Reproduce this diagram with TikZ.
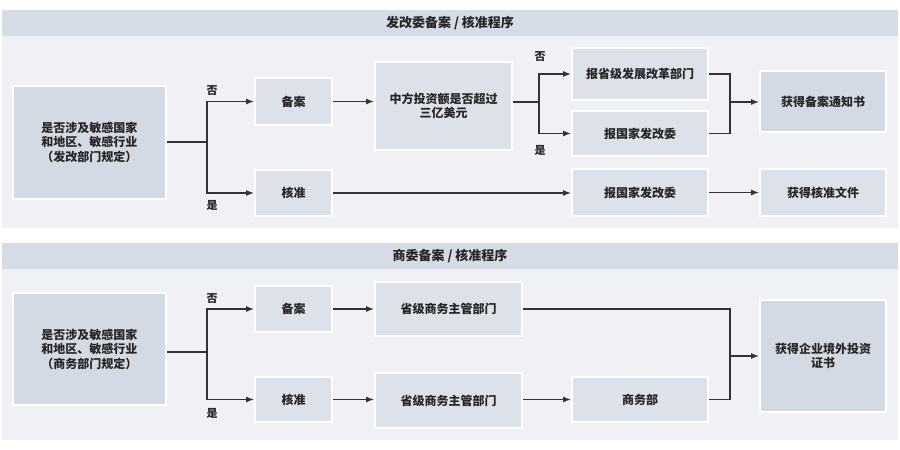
\documentclass[tikz,border=0pt]{standalone}
\usepackage{fontspec}
\setmainfont{Noto Sans CJK SC}
\usetikzlibrary{arrows.meta}
\definecolor{panelbg}{HTML}{EFF1F6}
\definecolor{headbg}{HTML}{D6DCE5}
\definecolor{bigbox}{HTML}{D4DAE3}
\definecolor{smallbox}{HTML}{DDE1E9}
\definecolor{linec}{HTML}{333333}
\begin{document}
\begin{tikzpicture}[x=1pt,y=-1pt,
  box/.style={draw=white,line width=2pt,fill=smallbox,inner sep=0pt,align=center,
    font=\fontsize{12}{14.5}\selectfont\bfseries,text=black!85},
  bbox/.style={box,fill=bigbox},
  conn/.style={draw=linec,line width=1.1pt},
  arr/.style={conn,-{Latex[length=8pt,width=6pt]}},
  lab/.style={font=\fontsize{11}{13}\selectfont\bfseries,text=black!85,inner sep=0pt},
  head/.style={font=\fontsize{13}{15}\selectfont\bfseries,text=black!85,inner sep=0pt}]
\useasboundingbox[fill=white] (0,0) rectangle (900,450);
% panels
\fill[panelbg] (2,10) rectangle (898,228);
\fill[headbg] (2,10) rectangle (898,36);
\node[head] (h1) at (450,23) {发改委备案 / 核准程序};
\fill[panelbg] (2,243) rectangle (898,440);
\fill[headbg] (2,243) rectangle (898,269);
\node[head] (h2) at (450,256) {商委备案 / 核准程序};
% top nodes
\node[bbox,minimum width=153pt,minimum height=113pt] (L1) at (89.5,142) {是否涉及敏感国家\\和地区、敏感行业\\（发改部门规定）};
\node[box,minimum width=77pt,minimum height=47pt] (B1) at (293.5,101.5) {备案};
\node[box,minimum width=77pt,minimum height=46pt] (H1) at (293.5,193) {核准};
\node[box,minimum width=137pt,minimum height=88pt] (Z) at (443.5,106) {中方投资额是否超过\\三亿美元};
\node[box,minimum width=136pt,minimum height=52pt] (P1) at (640,74) {报省级发展改革部门};
\node[box,minimum width=136pt,minimum height=45pt] (G1) at (640,133.5) {报国家发改委};
\node[box,minimum width=136pt,minimum height=47pt] (G2) at (640,192.5) {报国家发改委};
\node[bbox,minimum width=126pt,minimum height=61pt] (N1) at (823,101.5) {获得备案通知书};
\node[box,minimum width=126pt,minimum height=47pt] (N2) at (823,192.5) {获得核准文件};
% top connectors
\coordinate (j1) at (207,142);
\coordinate (j2) at (539,102);
\coordinate (j3) at (730,102);
\draw[conn] (L1.east) -- (j1);
\draw[arr] (j1) |- (B1);
\draw[arr] (j1) |- (H1);
\draw[arr] (B1.east) -- (B1.east -| Z.west);
\draw[conn] (Z.east |- j2) -- (j2);
\draw[arr] (j2) |- (P1);
\draw[arr] (j2) |- (G1);
\draw[conn] (P1) -| (j3);
\draw[conn] (G1) -| (j3);
\draw[arr] (j3) -- (j3 -| N1.west);
\draw[arr] (H1.east) -- (H1.east -| G2.west);
\draw[arr] (G2) -- (N2);
\node[lab] (t1) at (212,91) {否};
\node[lab] (t2) at (212,205) {是};
\node[lab] (t3) at (540,57) {否};
\node[lab] (t4) at (540,150) {是};
% bottom nodes
\node[bbox,minimum width=153pt,minimum height=112pt] (L2) at (89.5,349) {是否涉及敏感国家\\和地区、敏感行业\\（商务部门规定）};
\node[box,minimum width=77pt,minimum height=46pt] (B2) at (293.5,309) {备案};
\node[box,minimum width=77pt,minimum height=45pt] (H2) at (293.5,399.5) {核准};
\node[box,minimum width=147pt,minimum height=54pt] (S1) at (448.5,309) {省级商务主管部门};
\node[box,minimum width=147pt,minimum height=55pt] (S2) at (448.5,400.5) {省级商务主管部门};
\node[box,minimum width=136pt,minimum height=45pt] (M) at (640,399.5) {商务部};
\node[bbox,minimum width=126pt,minimum height=112pt] (E) at (823,356) {获得企业境外投资\\证书};
% bottom connectors
\coordinate (j4) at (207,352);
\coordinate (j5) at (730,356);
\draw[conn] (L2.east |- j4) -- (j4);
\draw[arr] (j4) |- (B2);
\draw[arr] (j4) |- (H2);
\draw[arr] (B2) -- (S1);
\draw[arr] (H2.east) -- (H2.east -| S2.west);
\draw[arr] (S2.east |- M) -- (M);
\draw[conn] (S1) -| (j5);
\draw[conn] (M) -| (j5);
\draw[arr] (j5) -- (j5 -| E.west);
\node[lab] (t5) at (212,299) {否};
\node[lab] (t6) at (212,413) {是};
\end{tikzpicture}
\end{document}
